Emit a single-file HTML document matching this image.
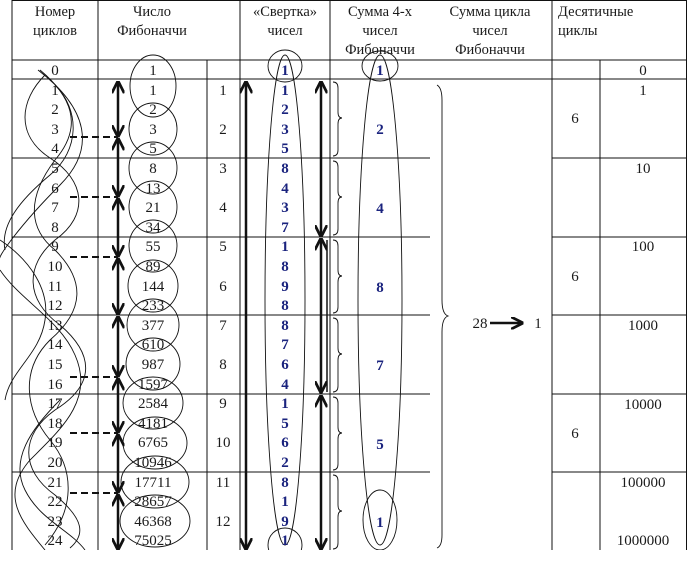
<!DOCTYPE html>
<html><head><meta charset="utf-8"><style>
html,body{margin:0;padding:0;background:#fff;}
svg{display:block;}
text{font-family:"Liberation Serif","DejaVu Serif",serif;font-size:15px;fill:#1a1a1a;}
.h{font-size:14.5px;}
.b{font-weight:bold;fill:#1a237e;}
</style></head><body>
<svg width="687" height="571" viewBox="0 0 687 571" xmlns="http://www.w3.org/2000/svg">
<defs>
<marker id="ah" viewBox="0 0 10 10" refX="9" refY="5" markerWidth="5" markerHeight="5" orient="auto-start-reverse"><path d="M0,0 L10,5 L0,10" fill="none" stroke="#111" stroke-width="2.2"/></marker>
<clipPath id="cp"><rect x="0" y="0" width="687" height="550"/></clipPath>
</defs>
<g clip-path="url(#cp)">
<g stroke="#111" stroke-width="1" fill="none">
<line x1="12" y1="0.5" x2="687" y2="0.5"/>
<line x1="12" y1="60" x2="687" y2="60"/>
<line x1="12" y1="79" x2="687" y2="79"/>
<line x1="12" y1="158" x2="430" y2="158"/><line x1="552" y1="158" x2="687" y2="158"/>
<line x1="12" y1="237" x2="430" y2="237"/><line x1="552" y1="237" x2="687" y2="237"/>
<line x1="12" y1="315" x2="430" y2="315"/><line x1="552" y1="315" x2="687" y2="315"/>
<line x1="12" y1="394" x2="430" y2="394"/><line x1="552" y1="394" x2="687" y2="394"/>
<line x1="12" y1="472" x2="430" y2="472"/><line x1="552" y1="472" x2="687" y2="472"/>
<line x1="12" y1="0" x2="12" y2="550"/>
<line x1="98" y1="0" x2="98" y2="550"/>
<line x1="207" y1="60" x2="207" y2="550"/>
<line x1="240" y1="0" x2="240" y2="550"/>
<line x1="330" y1="0" x2="330" y2="550"/>
<line x1="552" y1="0" x2="552" y2="550"/>
<line x1="600" y1="60" x2="600" y2="550"/>
<line x1="686.5" y1="0" x2="686.5" y2="550"/>
</g>
<g stroke="#111" stroke-width="0.9" fill="none">
<path d="M38,70 C90,110 95,150 60,185 C20,225 -5,260 0,260 M0,270 C20,300 60,320 75,355 C95,400 60,430 30,460 C0,495 20,520 45,550"/>
<path d="M40,70 C70,95 85,125 55,160 C25,200 30,230 55,250 C85,280 85,310 50,340 C20,370 25,410 50,440 C75,470 75,510 45,545"/>
<path d="M45,75 C20,100 15,135 50,158 C85,180 90,215 55,240 C25,265 25,300 60,325 C95,355 95,385 55,410 C20,435 20,470 55,495 C85,520 85,535 70,548"/>
<path d="M55,85 C80,110 80,150 50,175 C20,200 0,225 5,250 M0,240 C30,260 50,290 45,320 C40,355 10,370 5,400 M60,400 C30,430 10,460 25,490 C40,520 70,530 85,550"/>
</g>
<g stroke="#111" stroke-width="2" stroke-dasharray="7,4">
<line x1="70" y1="137" x2="118" y2="137"/><line x1="70" y1="197" x2="118" y2="197"/>
<line x1="70" y1="257" x2="118" y2="257"/><line x1="70" y1="377" x2="118" y2="377"/>
<line x1="70" y1="433" x2="118" y2="433"/><line x1="70" y1="493" x2="118" y2="493"/>
</g>
<g stroke="#111" stroke-width="2.5" marker-start="url(#ah)" marker-end="url(#ah)">
<line x1="118" y1="82" x2="118" y2="136"/><line x1="118" y1="139" x2="118" y2="196"/>
<line x1="118" y1="199" x2="118" y2="256"/><line x1="118" y1="259" x2="118" y2="314"/>
<line x1="118" y1="317" x2="118" y2="376"/><line x1="118" y1="379" x2="118" y2="432"/>
<line x1="118" y1="435" x2="118" y2="492"/><line x1="118" y1="495" x2="118" y2="549"/>
<line x1="246" y1="82" x2="246" y2="549"/>
<line x1="321" y1="82" x2="321" y2="236"/><line x1="321" y1="239" x2="321" y2="392"/>
<line x1="321" y1="396" x2="321" y2="549"/>
</g>
<line x1="327" y1="240" x2="327" y2="392" stroke="#111" stroke-width="1.5"/>
<g stroke="#111" stroke-width="0.9" fill="none">
<ellipse cx="153" cy="86" rx="23" ry="31"/>
<ellipse cx="153" cy="129" rx="24" ry="26"/>
<ellipse cx="153" cy="168" rx="24" ry="26"/>
<ellipse cx="153" cy="207" rx="24" ry="26"/>
<ellipse cx="153" cy="246" rx="24" ry="26"/>
<ellipse cx="153" cy="286" rx="25" ry="26"/>
<ellipse cx="153" cy="325" rx="26" ry="26"/>
<ellipse cx="153" cy="364" rx="27" ry="26"/>
<ellipse cx="153" cy="403" rx="30" ry="26"/>
<ellipse cx="155" cy="443" rx="32" ry="26"/>
<ellipse cx="155" cy="482" rx="34" ry="26"/>
<ellipse cx="155" cy="521" rx="35" ry="26"/>
<ellipse cx="285" cy="300" rx="20" ry="245"/>
<ellipse cx="285" cy="66" rx="17" ry="16"/>
<ellipse cx="285" cy="545" rx="17" ry="17"/>
<ellipse cx="380" cy="300" rx="22" ry="245"/>
<ellipse cx="380" cy="66" rx="18" ry="15"/>
<ellipse cx="380" cy="520" rx="17" ry="30"/>
<path d="M333,82 Q338,82 338,88 L338,112 Q338,118 342,118 Q338,118 338,124 L338,150 Q338,156 333,156"/>
<path d="M333,161 Q338,161 338,167 L338,191 Q338,197 342,197 Q338,197 338,203 L338,229 Q338,235 333,235"/>
<path d="M333,240 Q338,240 338,246 L338,270 Q338,276 342,276 Q338,276 338,282 L338,307 Q338,313 333,313"/>
<path d="M333,318 Q338,318 338,324 L338,348 Q338,354 342,354 Q338,354 338,360 L338,386 Q338,392 333,392"/>
<path d="M333,397 Q338,397 338,403 L338,427 Q338,433 342,433 Q338,433 338,439 L338,464 Q338,470 333,470"/>
<path d="M333,475 Q338,475 338,481 L338,505 Q338,511 342,511 Q338,511 338,517 L338,543 Q338,549 333,549"/>
<path d="M437,85 Q442,88 442,100 L442,300 Q442,314 448,316 Q442,318 442,332 L442,535 Q442,546 437,548"/>
</g>
</g>
<line x1="490" y1="323" x2="522" y2="323" stroke="#111" stroke-width="2.5" marker-end="url(#ah)"/>

<g text-anchor="middle" class="h">
<text x="55" y="16" class="h">Номер</text><text x="55" y="35" class="h">циклов</text>
<text x="152" y="16" class="h">Число</text><text x="152" y="35" class="h">Фибоначчи</text>
<text x="285" y="16" class="h">«Свертка»</text><text x="285" y="35" class="h">чисел</text>
<text x="380" y="16" class="h">Сумма 4-х</text><text x="380" y="35" class="h">чисел</text><text x="380" y="54" class="h">Фибоначчи</text>
<text x="490" y="16" class="h">Сумма цикла</text><text x="490" y="35" class="h">чисел</text><text x="490" y="54" class="h">Фибоначчи</text>
</g>
<text x="558" y="16" class="h">Десятичные</text><text x="558" y="35" class="h">циклы</text>

<g text-anchor="middle">
<text x="55" y="75">0</text><text x="55" y="95">1</text><text x="55" y="114">2</text><text x="55" y="134">3</text><text x="55" y="153">4</text>
<text x="55" y="173">5</text><text x="55" y="193">6</text><text x="55" y="212">7</text><text x="55" y="232">8</text>
<text x="55" y="251">9</text><text x="55" y="271">10</text><text x="55" y="291">11</text><text x="55" y="310">12</text>
<text x="55" y="330">13</text><text x="55" y="349">14</text><text x="55" y="369">15</text><text x="55" y="389">16</text>
<text x="55" y="408">17</text><text x="55" y="428">18</text><text x="55" y="447">19</text><text x="55" y="467">20</text>
<text x="55" y="487">21</text><text x="55" y="506">22</text><text x="55" y="526">23</text><text x="55" y="545">24</text>

<text x="153" y="75">1</text><text x="153" y="95">1</text><text x="153" y="114">2</text><text x="153" y="134">3</text><text x="153" y="153">5</text>
<text x="153" y="173">8</text><text x="153" y="193">13</text><text x="153" y="212">21</text><text x="153" y="232">34</text>
<text x="153" y="251">55</text><text x="153" y="271">89</text><text x="153" y="291">144</text><text x="153" y="310">233</text>
<text x="153" y="330">377</text><text x="153" y="349">610</text><text x="153" y="369">987</text><text x="153" y="389">1597</text>
<text x="153" y="408">2584</text><text x="153" y="428">4181</text><text x="153" y="447">6765</text><text x="153" y="467">10946</text>
<text x="153" y="487">17711</text><text x="153" y="506">28657</text><text x="153" y="526">46368</text><text x="153" y="545">75025</text>

<text x="223" y="95">1</text><text x="223" y="134">2</text><text x="223" y="173">3</text><text x="223" y="212">4</text>
<text x="223" y="251">5</text><text x="223" y="291">6</text><text x="223" y="330">7</text><text x="223" y="369">8</text>
<text x="223" y="408">9</text><text x="223" y="447">10</text><text x="223" y="487">11</text><text x="223" y="526">12</text>
</g>
<g text-anchor="middle">
<text x="285" y="75" class="b">1</text><text x="285" y="95" class="b">1</text><text x="285" y="114" class="b">2</text><text x="285" y="134" class="b">3</text><text x="285" y="153" class="b">5</text>
<text x="285" y="173" class="b">8</text><text x="285" y="193" class="b">4</text><text x="285" y="212" class="b">3</text><text x="285" y="232" class="b">7</text>
<text x="285" y="251" class="b">1</text><text x="285" y="271" class="b">8</text><text x="285" y="291" class="b">9</text><text x="285" y="310" class="b">8</text>
<text x="285" y="330" class="b">8</text><text x="285" y="349" class="b">7</text><text x="285" y="369" class="b">6</text><text x="285" y="389" class="b">4</text>
<text x="285" y="408" class="b">1</text><text x="285" y="428" class="b">5</text><text x="285" y="447" class="b">6</text><text x="285" y="467" class="b">2</text>
<text x="285" y="487" class="b">8</text><text x="285" y="506" class="b">1</text><text x="285" y="526" class="b">9</text><text x="285" y="545" class="b">1</text>
<text x="380" y="75" class="b">1</text><text x="380" y="134" class="b">2</text><text x="380" y="213" class="b">4</text>
<text x="380" y="292" class="b">8</text><text x="380" y="370" class="b">7</text><text x="380" y="449" class="b">5</text><text x="380" y="527" class="b">1</text>
</g>
<g text-anchor="middle">
<text x="480" y="328">28</text><text x="538" y="328">1</text>
<text x="575" y="123">6</text><text x="575" y="281">6</text><text x="575" y="438">6</text>
<text x="643" y="75">0</text><text x="643" y="95">1</text><text x="643" y="173">10</text><text x="643" y="251">100</text>
<text x="643" y="330">1000</text><text x="643" y="409">10000</text><text x="643" y="487">100000</text><text x="643" y="545">1000000</text>
</g>
</svg>
</body></html>
